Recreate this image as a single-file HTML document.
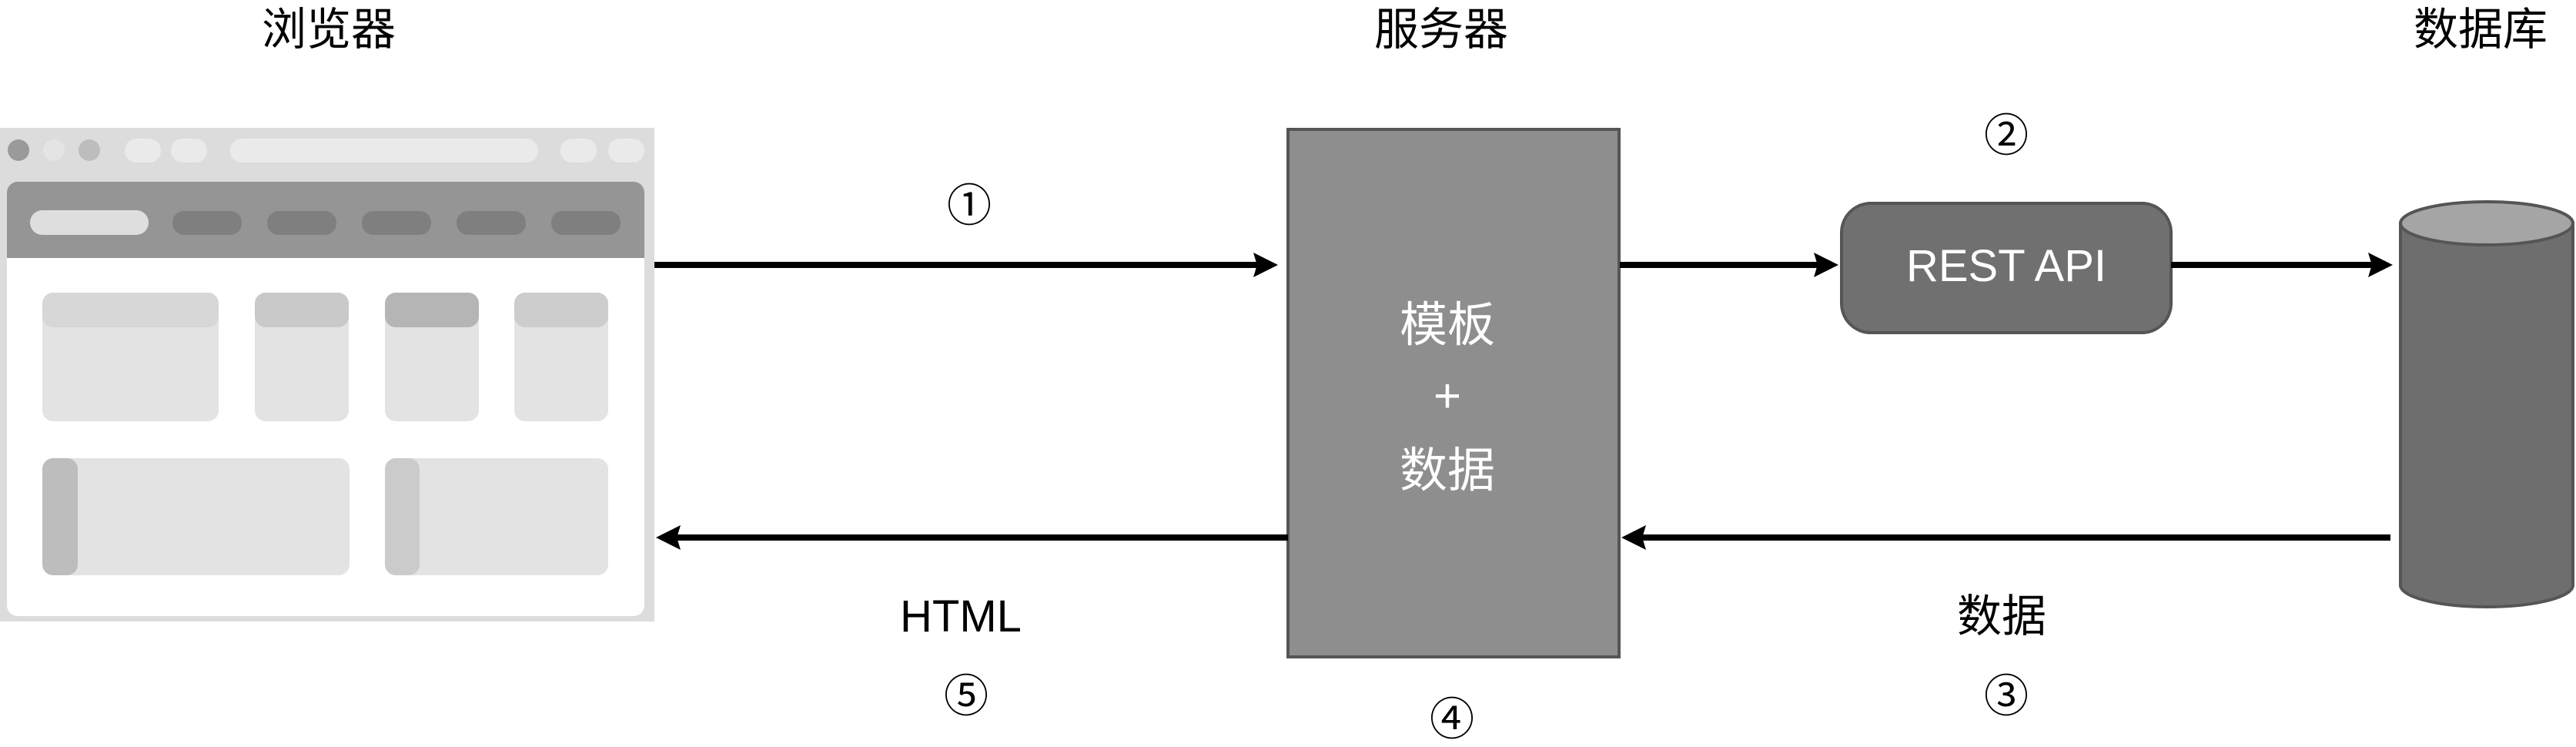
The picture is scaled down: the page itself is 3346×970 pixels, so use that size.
<!DOCTYPE html>
<html><head><meta charset="utf-8"><style>
html,body{margin:0;padding:0;background:#fff;width:3346px;height:970px;overflow:hidden}
text{font-family:"Liberation Sans","Noto Sans CJK SC",sans-serif}
</style></head><body>
<svg width="3346" height="970" viewBox="0 0 3346 970" xmlns="http://www.w3.org/2000/svg">
<defs>
<marker id="ah" markerWidth="4" markerHeight="4" refX="3" refY="2" orient="auto" markerUnits="strokeWidth">
<path d="M0,0 L4,2 L0,4 L0.6,2 Z" fill="#000"/></marker>
</defs>
<!-- titles -->
<g font-size="58" text-anchor="middle" fill="#000">
<text x="427" y="58">浏览器</text>
<text x="1872" y="58">服务器</text>
<text x="3222" y="58">数据库</text>
</g>
<!-- browser -->
<rect x="0" y="166" width="850" height="641" fill="#dcdcdc"/>
<circle cx="24" cy="195" r="14" fill="#9a9a9a"/>
<circle cx="70" cy="195" r="14" fill="#e4e4e4"/>
<circle cx="116" cy="195" r="14" fill="#bdbdbd"/>
<rect x="162" y="180" width="47" height="31" rx="15" fill="#eaeaea"/>
<rect x="222" y="180" width="47" height="31" rx="15" fill="#eaeaea"/>
<rect x="299" y="180" width="400" height="31" rx="15" fill="#eaeaea"/>
<rect x="728" y="180" width="47" height="31" rx="15" fill="#eaeaea"/>
<rect x="790" y="180" width="47" height="31" rx="15" fill="#eaeaea"/>
<path d="M9,250 a14,14 0 0 1 14,-14 h800 a14,14 0 0 1 14,14 v85 h-828 z" fill="#959595"/>
<rect x="39" y="273" width="154" height="32" rx="16" fill="#dedede"/>
<rect x="224" y="274" width="90" height="31" rx="15" fill="#7f7f7f"/>
<rect x="347" y="274" width="90" height="31" rx="15" fill="#7f7f7f"/>
<rect x="470" y="274" width="90" height="31" rx="15" fill="#7f7f7f"/>
<rect x="593" y="274" width="90" height="31" rx="15" fill="#7f7f7f"/>
<rect x="716" y="274" width="90" height="31" rx="15" fill="#7f7f7f"/>
<path d="M9,335 h828 v451 a14,14 0 0 1 -14,14 h-800 a14,14 0 0 1 -14,-14 z" fill="#fff"/>
<g fill="#e3e3e3">
<rect x="55" y="380" width="229" height="167" rx="14"/>
<rect x="331" y="380" width="122" height="167" rx="14"/>
<rect x="500" y="380" width="122" height="167" rx="14"/>
<rect x="668" y="380" width="122" height="167" rx="14"/>
<rect x="55" y="595" width="399" height="152" rx="14"/>
<rect x="500" y="595" width="290" height="152" rx="14"/>
</g>
<rect x="55" y="380" width="229" height="45" rx="14" fill="#d7d7d7"/>
<rect x="331" y="380" width="122" height="45" rx="14" fill="#c9c9c9"/>
<rect x="500" y="380" width="122" height="45" rx="14" fill="#b5b5b5"/>
<rect x="668" y="380" width="122" height="45" rx="14" fill="#cdcdcd"/>
<rect x="55" y="595" width="46" height="152" rx="14" fill="#bdbdbd"/>
<rect x="500" y="595" width="45" height="152" rx="14" fill="#cbcbcb"/>
<!-- server -->
<rect x="1673" y="168" width="430" height="685" fill="#8e8e8e" stroke="#555" stroke-width="4"/>
<g font-size="62" text-anchor="middle" fill="#fff">
<text x="1880" y="443">模板</text>
<text x="1880" y="535">+</text>
<text x="1880" y="632">数据</text>
</g>
<!-- REST API -->
<rect x="2392" y="264" width="428" height="168" rx="38" fill="#707070" stroke="#555" stroke-width="4"/>
<text x="2606" y="365" font-size="58" text-anchor="middle" fill="#fff">REST API</text>
<!-- DB -->
<path d="M3118,290 v470 a112,28 0 0 0 224,0 v-470 z" fill="#6e6e6e" stroke="#555" stroke-width="4"/>
<ellipse cx="3230" cy="290" rx="112" ry="28" fill="#a5a5a5" stroke="#555" stroke-width="4"/>
<!-- arrows -->
<g stroke="#000" stroke-width="8" fill="none">
<line x1="850" y1="344" x2="1652" y2="344" marker-end="url(#ah)"/>
<line x1="2104" y1="344" x2="2380" y2="344" marker-end="url(#ah)"/>
<line x1="2820" y1="344" x2="3100" y2="344" marker-end="url(#ah)"/>
<line x1="3105" y1="698" x2="2114" y2="698" marker-end="url(#ah)"/>
<line x1="1673" y1="698" x2="860" y2="698" marker-end="url(#ah)"/>
</g>
<!-- labels -->
<g font-size="58" text-anchor="middle" fill="#000">
<text x="1259" y="287">①</text>
<text x="2606" y="196">②</text>
<text x="2600" y="820">数据</text>
<text x="2606" y="924">③</text>
<text x="1886" y="954">④</text>
<text x="1248" y="820">HTML</text>
<text x="1255" y="924">⑤</text>
</g>
</svg>
</body></html>
